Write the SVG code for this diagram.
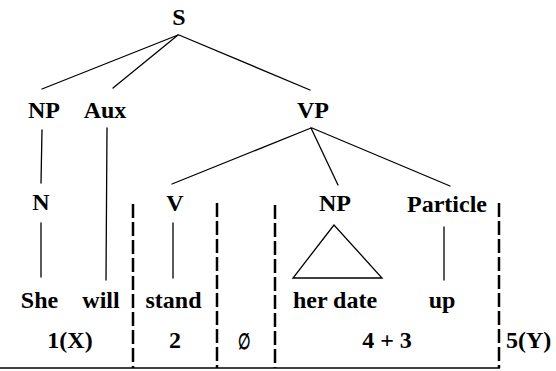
<svg xmlns="http://www.w3.org/2000/svg" width="556" height="371" viewBox="0 0 556 371">
<style>
text{font-family:"Liberation Serif","Times New Roman",serif;font-weight:bold;font-size:24px;fill:#000;text-anchor:middle}
.e{stroke:#000;stroke-width:1.3;fill:none;stroke-linecap:round}
.d{stroke:#000;stroke-width:2.5;fill:none;stroke-dasharray:14 4}
</style>
<rect width="556" height="371" fill="#fff"/>
<g id="connectors">
<line class="e" x1="178" y1="35" x2="42" y2="89"/>
<line class="e" x1="178" y1="35" x2="113" y2="88"/>
<line class="e" x1="179" y1="35" x2="310" y2="90"/>
<line class="e" x1="42" y1="130" x2="41" y2="183"/>
<line class="e" x1="41" y1="223" x2="41" y2="277"/>
<line class="e" x1="107" y1="128" x2="106" y2="280"/>
<line class="e" x1="311" y1="128" x2="172" y2="184"/>
<line class="e" x1="311" y1="128" x2="338" y2="185"/>
<line class="e" x1="312" y1="128" x2="450" y2="186"/>
<line class="e" x1="173" y1="223" x2="173" y2="278"/>
<line class="e" x1="444" y1="227" x2="444" y2="280"/>
<polygon class="e" points="334,225 293,278 382,278"/>
</g>
<g id="S"><text x="179" y="25">S</text></g>
<g id="NP1"><text x="44" y="118">NP</text></g>
<g id="Aux"><text x="105" y="118">Aux</text></g>
<g id="VP"><text x="313" y="118">VP</text></g>
<g id="N"><text x="41" y="210">N</text></g>
<g id="V"><text x="175" y="211">V</text></g>
<g id="NP2"><text x="335" y="211">NP</text></g>
<g id="Particle"><text x="447" y="212">Particle</text></g>
<g id="She"><text x="39.5" y="308">She</text></g>
<g id="will"><text x="101" y="308">will</text></g>
<g id="stand"><text x="173.5" y="308">stand</text></g>
<g id="herdate"><text x="335" y="308">her date</text></g>
<g id="up"><text x="442" y="308">up</text></g>
<g id="segments">
<line class="d" x1="133" y1="204" x2="133" y2="368"/>
<line class="d" x1="217" y1="203" x2="217" y2="368"/>
<line class="d" x1="275" y1="205" x2="275" y2="368"/>
<line class="d" x1="499" y1="203" x2="499" y2="368"/>
<line stroke="#000" stroke-width="1.5" x1="0" y1="368" x2="500" y2="368"/>
<text x="70" y="348">1(X)</text>
<text x="175" y="348">2</text>
<text transform="translate(245,349) scale(0.65,1)" x="0" y="0" style="font-size:22px">∅</text>
<text x="387" y="348">4 + 3</text>
<text x="506" y="348" style="text-anchor:start">5(Y)</text>
</g>
</svg>
